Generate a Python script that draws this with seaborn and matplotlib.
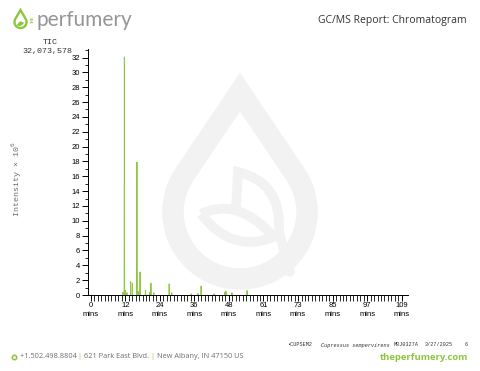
import numpy as np
import pandas as pd
import matplotlib
matplotlib.use("Agg")
import matplotlib.pyplot as plt
from matplotlib.path import Path
from matplotlib.patches import PathPatch
import seaborn as sns

# peak retention times (mins) and heights (intensity x 10^6)
peak_times = [11.3, 11.8, 12.2, 12.7, 14.0, 14.6, 16.2, 16.6, 17.3, 19.2, 20.6, 21.1, 22.1,
              27.5, 28.4, 35.2, 37.6, 38.7, 43.2, 47.0, 47.4, 49.5, 54.8]
peak_heights = [0.4, 32.07, 0.6, 0.3, 1.8, 1.6, 17.9, 0.5, 3.1, 0.6, 0.3, 1.6, 0.3,
                1.5, 0.3, 0.15, 0.2, 1.2, 0.15, 0.35, 0.5, 0.3, 0.6]

x_tick_labels = ["0", "12", "24", "36", "48", "61", "73", "85", "97", "109"]
y_tick_values = list(range(0, 33, 2))

green = "#8dc63f"
grey_text = "#6d6d6d"
dark = "#333333"

# build a little triangle for every peak so lineplot draws separate spikes
rows = []
for i, (t, h) in enumerate(zip(peak_times, peak_heights)):
    rows += [(i, t - 0.08, 0.0), (i, t, h), (i, t + 0.08, 0.0)]
trace = pd.DataFrame(rows, columns=["peak", "time", "intensity"])

sns.set_theme(style="ticks")
plt.rcParams["font.family"] = ["Liberation Sans", "DejaVu Sans"]

fig = plt.figure(figsize=(4.8, 3.71), dpi=100)

# background layer in pixel coordinates for the branding bits
bg = fig.add_axes([0, 0, 1, 1], zorder=0)
bg.set_xlim(0, 480)
bg.set_ylim(371, 0)
bg.axis("off")


def drop_xy(cx, cy, r, tip_y, n=200):
    d = cy - tip_y
    beta = np.arccos(r / d)
    a = np.linspace(beta, 2 * np.pi - beta, n)
    xs = cx + r * np.sin(a)
    ys = cy - r * np.cos(a)
    return np.r_[cx, xs], np.r_[tip_y, ys]


# watermark drop
wm = "#f2f2f2"
wx, wy = drop_xy(240, 212, 67, 92)
drop = Path(np.c_[np.r_[wx, wx[0]], np.r_[wy, wy[0]]], closed=True)
bg.add_patch(PathPatch(drop, fill=False, ec=wm, lw=15.5, joinstyle="miter"))
leaf_a = Path([(201, 214), (237, 196), (274, 237), (232, 254), (201, 214)],
              [Path.MOVETO, Path.CURVE3, Path.CURVE3, Path.CURVE3, Path.CURVE3])
bg.add_patch(PathPatch(leaf_a, fill=False, ec=wm, lw=7, joinstyle="miter"))
leaf_b = Path([(236, 207), (238, 172), (282, 182), (279, 232), (290, 272)],
              [Path.MOVETO, Path.LINETO, Path.CURVE3, Path.CURVE3, Path.LINETO])
bg.add_patch(PathPatch(leaf_b, fill=False, ec=wm, lw=7, joinstyle="miter", capstyle="round"))

# logo
lx, ly = drop_xy(20.5, 22, 6, 10)
logo = Path(np.c_[np.r_[lx, lx[0]], np.r_[ly, ly[0]]], closed=True)
bg.add_patch(PathPatch(logo, fill=False, ec=green, lw=1.7, joinstyle="miter"))
small_leaf = Path([(17, 25), (20, 19), (24, 23), (20, 28), (17, 25)],
                  [Path.MOVETO, Path.CURVE3, Path.CURVE3, Path.CURVE3, Path.CURVE3])
bg.add_patch(PathPatch(small_leaf, fc=green, ec="none"))
bg.text(33, 19, "THE", rotation=90, fontsize=2.6, color=green, fontweight="bold",
        ha="center", va="center")
bg.text(36, 19.5, "perfumery", fontsize=15, color="#959595", ha="left", va="center",
        family=["Lato", "DejaVu Sans"])

bg.text(467, 21, "GC/MS Report: Chromatogram", fontsize=7.5, color=dark,
        ha="right", va="center", family=["Open Sans", "DejaVu Sans"])

# TIC header
mono = ["Liberation Mono", "DejaVu Sans Mono"]
bg.text(50, 43, "TIC", fontsize=6, color=dark, ha="center", va="center", family=mono)
bg.text(72, 51, "32,073,578", fontsize=6, color=dark, ha="right", va="center", family=mono)
bg.text(17, 179, "Intensity \u00d7 10$^6$", fontsize=6, color=grey_text, rotation=90,
        ha="center", va="center", family=mono)

# footer
fs = 3.7
bg.text(287, 345, "\u2022CUPSEM2", fontsize=fs, color=dark, va="center", family=mono)
bg.text(321, 345, "Cupressus sempervirens", fontsize=fs, color=dark, va="center",
        family=mono, style="italic")
bg.text(394, 345, "M0J0327A", fontsize=fs, color=dark, va="center", family=mono)
bg.text(425, 345, "3/27/2025", fontsize=fs, color=dark, va="center", family=mono)
bg.text(465, 345, "6", fontsize=fs, color=dark, va="center", family=mono)

bg.text(468, 357, "theperfumery.com", fontsize=6.8, color=green, ha="right", va="center",
        fontweight="bold", family=["Open Sans", "DejaVu Sans"])

renderer = fig.canvas.get_renderer()
bg.plot([14], [357], marker="o", ms=3.2, mfc="none", mec=green, mew=1.1)
x = 19.5
parts = [("+1.502.498.8804 ", grey_text), ("| ", green), ("621 Park East Blvd. ", grey_text),
         ("| ", green), ("New Albany, IN 47150 US", grey_text)]
for s, c in parts:
    t = bg.text(x, 357, s, fontsize=5.35, color=c, va="center", ha="left",
                family=["Open Sans", "DejaVu Sans"])
    x += t.get_window_extent(renderer).width

# chromatogram
ax = fig.add_axes([88 / 480, 1 - 295 / 371, 320 / 480, 246 / 371], zorder=1)
ax.patch.set_alpha(0)
sns.lineplot(data=trace, x="time", y="intensity", units="peak", estimator=None,
             sort=False, color=green, lw=0.7, ax=ax)
ax.set_xlim(-0.95, 111.2)
ax.set_ylim(0, 33.15)
ax.set_xlabel("")
ax.set_ylabel("")
for side in ["top", "right"]:
    ax.spines[side].set_visible(False)
for side in ["left", "bottom"]:
    ax.spines[side].set_linewidth(0.7)
    ax.spines[side].set_color("black")

ax.set_xticks(np.linspace(0, 109, 10))
ax.set_xticklabels([f"{v}\nmins" for v in x_tick_labels], linespacing=1.35)
ax.set_xticks(np.linspace(0, 109, 91), minor=True)
ax.set_yticks(y_tick_values)
ax.set_yticklabels([str(v) for v in y_tick_values])
ax.set_yticks(range(0, 34), minor=True)
ax.tick_params(axis="both", which="major", labelsize=5.5, colors="black", width=0.7,
               length=4, pad=2)
ax.tick_params(axis="x", which="major", pad=1)
ax.tick_params(axis="x", which="minor", width=0.7, length=4)
ax.tick_params(axis="y", which="minor", width=0.7, length=2)

fig.savefig("out.png", dpi=100)
